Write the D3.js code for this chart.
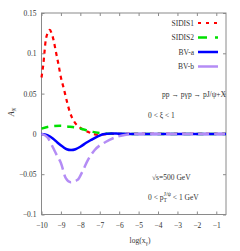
<!DOCTYPE html>
<html>
<head>
<meta charset="utf-8">
<script src="https://cdn.jsdelivr.net/npm/d3@7"></script>
<style>
  body { margin: 0; background: #fff; }
  text { font-family: "Liberation Serif", "DejaVu Serif", serif; fill: #333; }
</style>
</head>
<body>
<script>
// data
const xTicks = [-10, -9, -8, -7, -6, -5, -4, -3, -2, -1];
const yTicks = [-0.1, -0.05, 0, 0.05, 0.1, 0.15];

const sidis1X = [-10, -9.91, -9.78, -9.67, -9.57, -9.48, -9.38, -9.26, -9.12, -9.0, -8.86, -8.71, -8.54, -8.31, -8.0, -7.6, -7.1, -6.5, -5, -3, -0.5];
const sidis1Y = [0.070, 0.0855, 0.1165, 0.126, 0.129, 0.125, 0.1165, 0.102, 0.0855, 0.070, 0.057, 0.042, 0.027, 0.015, 0.0075, 0.0025, -0.001, 0, 0, 0, 0];

const sidis2X = [-10, -9.6, -9.02, -8.6, -8.14, -7.7, -7.36, -7.0, -6.6, -6, -5, -0.5];
const sidis2Y = [0.0065, 0.009, 0.010, 0.009, 0.0074, 0.0045, 0.0025, 0.0012, 0.0003, 0, 0, 0];

const bvaX = [-10, -9.7, -9.4, -9.17, -8.9, -8.7, -8.48, -8.25, -8.0, -7.7, -7.45, -7.1, -6.76, -6.4, -6, -5, -0.5];
const bvaY = [0, -0.0015, -0.006, -0.011, -0.016, -0.019, -0.020, -0.019, -0.016, -0.011, -0.0075, -0.003, 0, 0.0005, 0.0003, 0, 0];

const bvbX = [-10, -9.7, -9.43, -9.2, -9.0, -8.75, -8.5, -8.14, -7.9, -7.6, -7.26, -6.7, -6.17, -5.65, -5, -0.5];
const bvbY = [0, -0.004, -0.016, -0.027, -0.036, -0.055, -0.060, -0.057, -0.047, -0.032, -0.020, -0.010, -0.004, -0.001, 0, 0];

const seriesNames = ["SIDIS1", "SIDIS2", "BV-a", "BV-b"];

let width = 240, height = 251;
let margin = { top: 13, right: 14, bottom: 36.5, left: 41.5 };

let svg = d3.select("body").append("svg")
    .attr("width", width)
    .attr("height", height);

let xScale = d3.scaleLinear()
    .domain([-10, -0.5])
    .range([margin.left, width - margin.right]);

let yScale = d3.scaleLinear()
    .domain([-0.1, 0.15])
    .range([height - margin.bottom, margin.top]);

const axisColor = "#8a8a8a";
const fmt = d => (d < 0 ? "\u2212" : "") + String(Math.abs(d));

// frame
svg.append("rect")
    .attr("x", xScale(-10)).attr("y", yScale(0.15))
    .attr("width", xScale(-0.5) - xScale(-10))
    .attr("height", yScale(-0.1) - yScale(0.15))
    .attr("fill", "none").attr("stroke", axisColor).attr("stroke-width", 1);

function styleAxis(g, noText) {
    g.select(".domain").remove();
    g.selectAll(".tick line").attr("stroke", axisColor);
    g.selectAll(".tick text").style("font-size", "7.5px").attr("fill", "#333");
    if (noText) g.selectAll(".tick text").remove();
}

svg.append("g")
    .attr("transform", `translate(0,${yScale(-0.1)})`)
    .call(d3.axisBottom(xScale).tickValues(xTicks).tickSize(-3).tickPadding(8).tickFormat(fmt))
    .call(g => styleAxis(g));
svg.append("g")
    .attr("transform", `translate(0,${yScale(0.15)})`)
    .call(d3.axisTop(xScale).tickValues(xTicks).tickSize(-3))
    .call(g => styleAxis(g, true));
svg.append("g")
    .attr("transform", `translate(${xScale(-10)},0)`)
    .call(d3.axisLeft(yScale).tickValues(yTicks).tickSize(-3).tickPadding(5).tickFormat(fmt))
    .call(g => styleAxis(g));
svg.append("g")
    .attr("transform", `translate(${xScale(-0.5)},0)`)
    .call(d3.axisRight(yScale).tickValues(yTicks).tickSize(-3))
    .call(g => styleAxis(g, true));

// curves
const styles = [
    { color: "#ff0000", width: 2.2, dash: "4,4" },
    { color: "#00e000", width: 2.5, dash: "7,6" },
    { color: "#0000ff", width: 2.5, dash: null },
    { color: "#b48cf5", width: 2.5, dash: "11,5" }
];
const series = [
    sidis1X.map((x, i) => [x, sidis1Y[i]]),
    sidis2X.map((x, i) => [x, sidis2Y[i]]),
    bvaX.map((x, i) => [x, bvaY[i]]),
    bvbX.map((x, i) => [x, bvbY[i]])
];

let line = d3.line()
    .x(d => xScale(d[0]))
    .y(d => yScale(d[1]))
    .curve(d3.curveMonotoneX);

series.forEach((pts, i) => {
    svg.append("path")
        .attr("d", line(pts))
        .attr("fill", "none")
        .attr("stroke", styles[i].color)
        .attr("stroke-width", styles[i].width)
        .attr("stroke-dasharray", styles[i].dash);
});

// legend
const legend = svg.selectAll(".legend")
    .data(seriesNames)
    .enter().append("g")
    .attr("class", "legend")
    .attr("transform", (d, i) => `translate(0,${23 + i * 14.5})`);

legend.append("text")
    .attr("x", 194).attr("y", 2.6)
    .attr("text-anchor", "end")
    .style("font-size", "7.5px")
    .text(d => d);

legend.append("line")
    .attr("x1", 198).attr("x2", 218)
    .attr("y1", 0).attr("y2", 0)
    .attr("stroke", (d, i) => styles[i].color)
    .attr("stroke-width", (d, i) => styles[i].width)
    .attr("stroke-dasharray", (d, i) => i === 0 ? "3,5" : i === 1 ? "9,8" : null);

// annotations
svg.append("text").attr("x", 226).attr("y", 97).attr("text-anchor", "end")
    .style("font-size", "7.5px")
    .text("pp \u2192 p\u03b3p \u2192 pJ/\u03c8+X");
svg.append("text").attr("x", 148).attr("y", 118)
    .style("font-size", "7.5px")
    .text("0 < \u03be < 1");

let sq = svg.append("text").attr("x", 152).attr("y", 180).style("font-size", "7.5px");
sq.append("tspan").text("\u221as=500 GeV");

let pt = svg.append("text").attr("x", 148).attr("y", 200).style("font-size", "7.5px");
pt.append("tspan").text("0 < p");
pt.append("tspan").attr("dy", 2).style("font-size", "5.5px").text("T");
pt.append("tspan").attr("dx", -3).attr("dy", -6).style("font-size", "5.5px").text("J/\u03c8");
pt.append("tspan").attr("dy", 4).text(" < 1 GeV");

// axis labels
svg.append("text")
    .attr("transform", "translate(14,112) rotate(-90)")
    .attr("text-anchor", "middle")
    .style("font-size", "8px")
    .style("font-style", "italic")
    .html('A<tspan dy="2" style="font-size:5.5px">N</tspan>');

let xl = svg.append("text")
    .attr("x", 140).attr("y", 243)
    .attr("text-anchor", "middle")
    .style("font-size", "7.5px");
xl.append("tspan").text("log(x");
xl.append("tspan").attr("dy", 2).style("font-size", "5.5px").text("\u03b3");
xl.append("tspan").attr("dy", -2).text(")");
</script>
</body>
</html>
